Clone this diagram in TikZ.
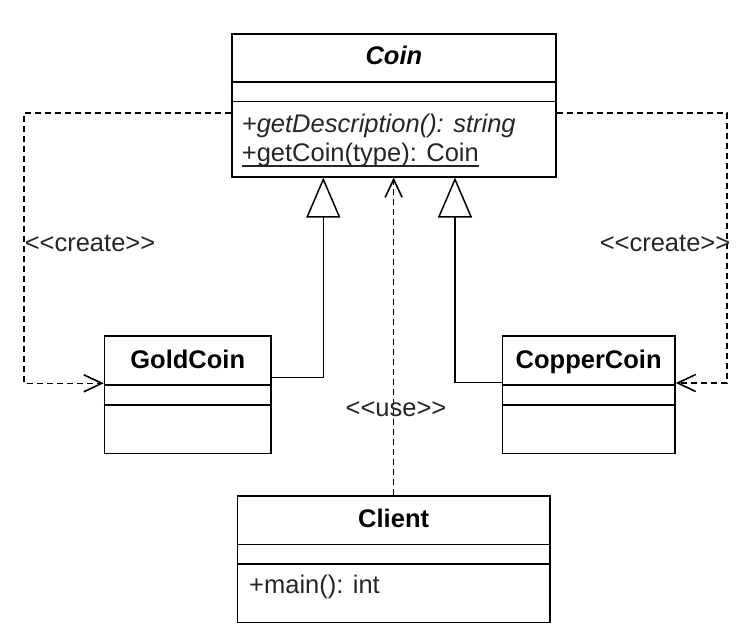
\documentclass[tikz,border=0pt]{standalone}
\usepackage{fontspec}
\setmainfont{Liberation Sans}[Ligatures=TeXOff]
\usetikzlibrary{arrows.meta}

\tikzset{
  classbox/.style={draw, line width=1.6pt, fill=white, inner sep=0pt},
  classname/.style={inner sep=0pt, anchor=base, font=\bfseries},
  member/.style={inner sep=0pt, anchor=base west, text=black!85},
  stereo/.style={inner sep=0pt, text=black!85},
  dep/.style={line width=1.6pt, dash pattern=on 6pt off 4pt,
    -{Straight Barb[length=18pt, width=17pt]}},
  inh/.style={line width=1.5pt, -{Triangle[open, fill=white, length=40pt, width=34pt]}}
}

\begin{document}
\fontsize{25.5}{29}\selectfont
\begin{tikzpicture}[x=1pt, y=-1pt]
    \useasboundingbox (0,0) rectangle (745,634);

    % Classes
    \node[classbox, minimum width=324.3pt, minimum height=142.7pt] (coin) at (393.85,105.35) {};
    \node[classbox, minimum width=166.5pt, minimum height=117.3pt] (gold) at (187.75,394.65) {};
    \node[classbox, minimum width=172.7pt, minimum height=117.3pt] (copper) at (588.65,394.65) {};
    \node[classbox, minimum width=312.7pt, minimum height=126.6pt] (client) at (393.65,559) {};

    % Compartment lines
    \foreach \c/\a/\b in {coin/48.7/68.3, gold/49.7/70, copper/49.7/70, client/49.6/69.3} {
        \draw[line width=1.6pt] ([yshift=-\a pt]\c.north west) -- ([yshift=-\a pt]\c.north east);
        \draw[line width=1.6pt] ([yshift=-\b pt]\c.north west) -- ([yshift=-\b pt]\c.north east);
    }

    % Names
    \node[classname] (coinname) at (393.85,65) {\itshape Coin};
    \node[classname] (goldname) at (187.75,368.3) {GoldCoin};
    \node[classname] (coppername) at (588.65,368.3) {CopperCoin};
    \node[classname] (clientname) at (393.65,527) {Client};

    % Members
    \node[member] (getdesc) at (241.7,132.7) {\itshape +getDescription(): string};
    \node[member] (getcoin) at (241.7,161.7) {+getCoin(type): Coin};
    \draw[line width=1.2pt, black!85] ([yshift=-4.3pt]getcoin.base west) -- ([yshift=-4.3pt]getcoin.base east);
    \node[member] (main) at (249,593) {+main(): int};

    % Inheritance
    \draw[inh] ([yshift=17.35pt]gold.east) -| ([xshift=-70.55pt]coin.south);
    \draw[inh] ([yshift=12pt]copper.west) -| ([xshift=61.15pt]coin.south);

    % Dependencies
    \draw[dep] ([yshift=-7.4pt]coin.west) -- ++(-206.7,0) |- ([yshift=11.35pt]gold.west);
    \draw[dep] ([yshift=-7.4pt]coin.east) -- ++(170,0) |- ([yshift=11.65pt]copper.east);
    \draw[dep] (client.north) -- (client.north |- coin.south);

    % Labels
    \node[stereo] (createl) at (90,243) {<<create>>};
    \node[stereo] (creater) at (665,243) {<<create>>};
    \node[stereo] (use) at (396,409) {<<use>>};
\end{tikzpicture}
\end{document}
